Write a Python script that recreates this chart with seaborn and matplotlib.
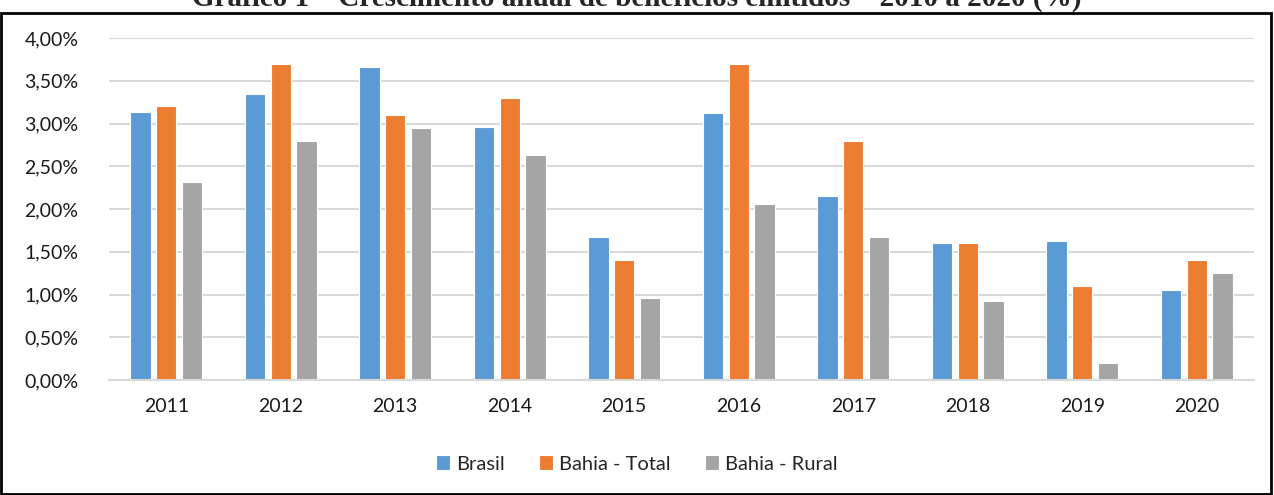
import pandas as pd
import matplotlib.pyplot as plt
import seaborn as sns
from matplotlib.patches import Rectangle
from matplotlib.ticker import FuncFormatter, MultipleLocator


years = ['2011', '2012', '2013', '2014', '2015', '2016', '2017', '2018', '2019', '2020']
brasil = [3.13, 3.35, 3.66, 2.96, 1.67, 3.12, 2.15, 1.60, 1.62, 1.05]
bahia_total = [3.20, 3.70, 3.10, 3.30, 1.40, 3.70, 2.80, 1.60, 1.10, 1.40]
bahia_rural = [2.32, 2.80, 2.95, 2.63, 0.96, 2.06, 1.67, 0.92, 0.20, 1.25]

series = ['Brasil', 'Bahia - Total', 'Bahia - Rural']
colors = ['#5B9BD5', '#ED7D31', '#A5A5A5']

df = pd.DataFrame({
    'ano': years * 3,
    'valor': brasil + bahia_total + bahia_rural,
    'serie': [s for s in series for _ in years],
})

sns.set_theme(style='white')
plt.rcParams['font.family'] = ['Lato', 'DejaVu Sans']

fig = plt.figure(figsize=(12.74, 4.95), dpi=100)
ax = fig.add_axes([109 / 1274, 1 - 380 / 495, 1145 / 1274, 342 / 495])

sns.barplot(data=df, x='ano', y='valor', hue='serie', palette=colors,
            width=0.67, gap=0.2, edgecolor='white', linewidth=0.8,
            saturation=1, ax=ax)

ax.set_ylim(0, 4)
ax.set_xlim(-0.5, 9.5)
ax.yaxis.set_major_locator(MultipleLocator(0.5))
ax.yaxis.set_major_formatter(FuncFormatter(lambda v, p: f"{v:.2f}%".replace('.', ',')))
ax.grid(axis='y', color='#D9D9D9', linewidth=1.5)
ax.set_axisbelow(True)
for s in ['top', 'right', 'left']:
    ax.spines[s].set_visible(False)
ax.spines['bottom'].set_color('#D9D9D9')
ax.spines['bottom'].set_linewidth(1.5)
ax.tick_params(axis='both', length=0, labelsize=14, colors='#1a1a1a')
ax.tick_params(axis='x', pad=13)
ax.tick_params(axis='y', pad=22)
ax.set_xlabel('')
ax.set_ylabel('')

ax.legend_.remove()
handles, labels = ax.get_legend_handles_labels()
fig.legend(handles, labels, loc='center', bbox_to_anchor=(0.5, 1 - 464 / 495),
           ncol=3, frameon=False, fontsize=14.5, handlelength=0.7,
           handleheight=0.7, handletextpad=0.3, columnspacing=1.7)

fig.patches.append(Rectangle((1 / 1274, 1 / 495), 1270 / 1274, 481 / 495,
                             transform=fig.transFigure, fill=False,
                             edgecolor='black', linewidth=2))

fig.text(0.5, 1 - 6 / 495, 'Gráfico 1 – Crescimento anual de benefícios emitidos – 2010 a 2020 (%)',
         ha='center', va='baseline', fontsize=21, fontweight='bold',
         family=['Liberation Serif', 'DejaVu Serif'])

plt.savefig('out.png', dpi=100)
